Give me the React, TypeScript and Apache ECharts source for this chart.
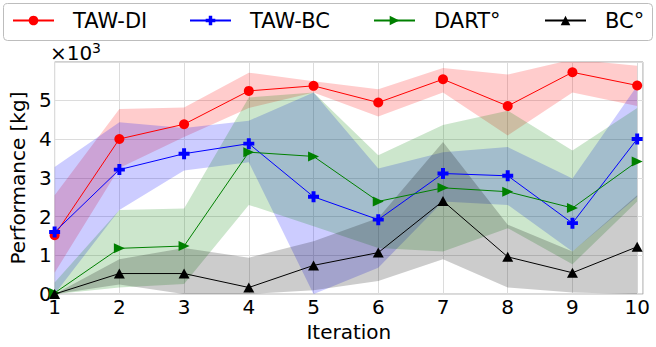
import React, { useEffect, useRef } from 'react';
import * as echarts from 'echarts';

const iterations = [1, 2, 3, 4, 5, 6, 7, 8, 9, 10];
const seriesNames = ['TAW-DI', 'TAW-BC', 'DART°', 'BC°'];

const tawDiMean = [1520, 4000, 4380, 5240, 5370, 4940, 5540, 4850, 5720, 5380];
const tawDiUpper = [2550, 4770, 4810, 5710, 5490, 5280, 5830, 5660, 6050, 5890];
const tawDiLower = [550, 3250, 4050, 4800, 5200, 4580, 5200, 4090, 5200, 4850];

const tawBcMean = [1600, 3210, 3620, 3880, 2510, 1920, 3110, 3050, 1830, 4000];
const tawBcUpper = [3280, 4430, 4280, 4470, 5200, 3240, 3660, 3790, 2980, 5370];
const tawBcLower = [0, 2170, 3190, 3400, 0, 680, 2390, 2300, 1100, 2510];

const dartMean = [30, 1180, 1240, 3660, 3550, 2390, 2740, 2640, 2220, 3420];
const dartUpper = [300, 2170, 2210, 5070, 5200, 3580, 4360, 4730, 3700, 4800];
const dartLower = [0, 170, 260, 2300, 1750, 1190, 1100, 1700, 770, 2390];

const bcMean = [0, 530, 530, 170, 740, 1070, 2400, 960, 550, 1220];
const bcUpper = [0, 900, 1190, 940, 1360, 1960, 3920, 1790, 1100, 2550];
const bcLower = [0, 250, 0, 0, 100, 340, 900, 170, 40, 0];

const means = [tawDiMean, tawBcMean, dartMean, bcMean];
const uppers = [tawDiUpper, tawBcUpper, dartUpper, bcUpper];
const lowers = [tawDiLower, tawBcLower, dartLower, bcLower];

const lineColors = ['#ff0000', '#0000ff', '#008000', '#000000'];
const bandColors = ['rgba(255,0,0,0.2)', 'rgba(0,0,255,0.2)', 'rgba(0,128,0,0.2)', 'rgba(0,0,0,0.2)'];
const symbols = [
  'circle',
  'path://M3.2,0H6.8V3.2H10V6.8H6.8V10H3.2V6.8H0V3.2H3.2Z',
  'path://M0,0L10,5L0,10Z',
  'triangle',
];
const symbolSizes: any[] = [10, 11, [11, 10], [11, 10]];
const legendLefts = [12, 189, 373, 544];

const FONT = 'DejaVu Sans';

export default function App() {
  const ref = useRef<HTMLDivElement>(null);
  useEffect(() => {
    document.body.style.margin = '0';
    if (!ref.current) return;
    const chart = echarts.init(ref.current, undefined, { renderer: 'svg' });

    const series: any[] = [];
    for (let i = 0; i < 4; i++) {
      const bandData = iterations.map((x, k) => [x, lowers[i][k], uppers[i][k]]);
      series.push({
        name: seriesNames[i] + '-band',
        type: 'custom',
        data: bandData,
        silent: true,
        clip: true,
        z: 1,
        encode: { x: 0, y: [1, 2] },
        renderItem: (params: any, api: any) => {
          if (params.dataIndex !== 0) return null;
          const top = bandData.map((d) => api.coord([d[0], d[2]]));
          const bottom = bandData.map((d) => api.coord([d[0], d[1]])).reverse();
          return {
            type: 'polygon',
            shape: { points: top.concat(bottom) },
            style: { fill: bandColors[i], stroke: 'none' },
          };
        },
      });
    }
    for (let i = 0; i < 4; i++) {
      series.push({
        name: seriesNames[i],
        type: 'line',
        data: iterations.map((x, k) => [x, means[i][k]]),
        symbol: symbols[i],
        symbolSize: symbolSizes[i],
        showAllSymbol: true,
        lineStyle: { color: lineColors[i], width: 1 },
        itemStyle: { color: lineColors[i] },
        z: 3 + i,
      });
    }

    const legends = seriesNames.map((n, i) => ({
      data: [n],
      left: legendLefts[i],
      top: 10,
      itemWidth: 41,
      itemHeight: 12,
      padding: 0,
      textStyle: { fontFamily: FONT, fontSize: 21, color: '#000', padding: [0, 0, 0, 14] },
    }));

    chart.setOption({
      animation: false,
      backgroundColor: '#ffffff',
      legend: legends,
      grid: {
        left: 48,
        right: 13,
        top: 62,
        bottom: 49.5,
        show: true,
        borderColor: '#a0a0a0',
        borderWidth: 1,
        containLabel: false,
      },
      xAxis: {
        type: 'value',
        min: 1,
        max: 10.09,
        interval: 1,
        name: 'Iteration',
        nameLocation: 'middle',
        nameGap: 22,
        nameTextStyle: { fontFamily: FONT, fontSize: 20, color: '#000' },
        axisLine: { show: false },
        axisTick: { show: false },
        axisLabel: { fontFamily: FONT, fontSize: 20, color: '#000', margin: 3, showMaxLabel: false },
        splitLine: { show: true, lineStyle: { color: '#dcdcdc', width: 1 } },
      },
      yAxis: {
        type: 'value',
        min: 0,
        max: 5985,
        interval: 1000,
        name: 'Performance [kg]',
        nameLocation: 'middle',
        nameGap: 20,
        nameTextStyle: { fontFamily: FONT, fontSize: 20, color: '#000' },
        axisLine: { show: false },
        axisTick: { show: false },
        axisLabel: {
          fontFamily: FONT,
          fontSize: 20,
          color: '#000',
          margin: 3,
          showMaxLabel: false,
          formatter: (v: number) => (v % 1000 === 0 ? String(v / 1000) : ''),
        },
        splitLine: { show: true, lineStyle: { color: '#dcdcdc', width: 1 } },
      },
      graphic: [
        {
          type: 'rect',
          z: -1,
          shape: { x: 3.5, y: 3.5, width: 649, height: 37, r: 4 },
          style: { fill: 'none', stroke: '#bdbdbd', lineWidth: 1 },
          silent: true,
        },
        {
          type: 'text',
          x: 50,
          y: 43,
          style: { text: '×10', fontFamily: FONT, fontSize: 20, fill: '#000' },
          silent: true,
        },
        {
          type: 'text',
          x: 92,
          y: 41,
          style: { text: '3', fontFamily: FONT, fontSize: 14, fill: '#000' },
          silent: true,
        },
      ],
      series,
    });

    return () => chart.dispose();
  }, []);
  return <div ref={ref} style={{ width: 656, height: 347 }} />;
}
